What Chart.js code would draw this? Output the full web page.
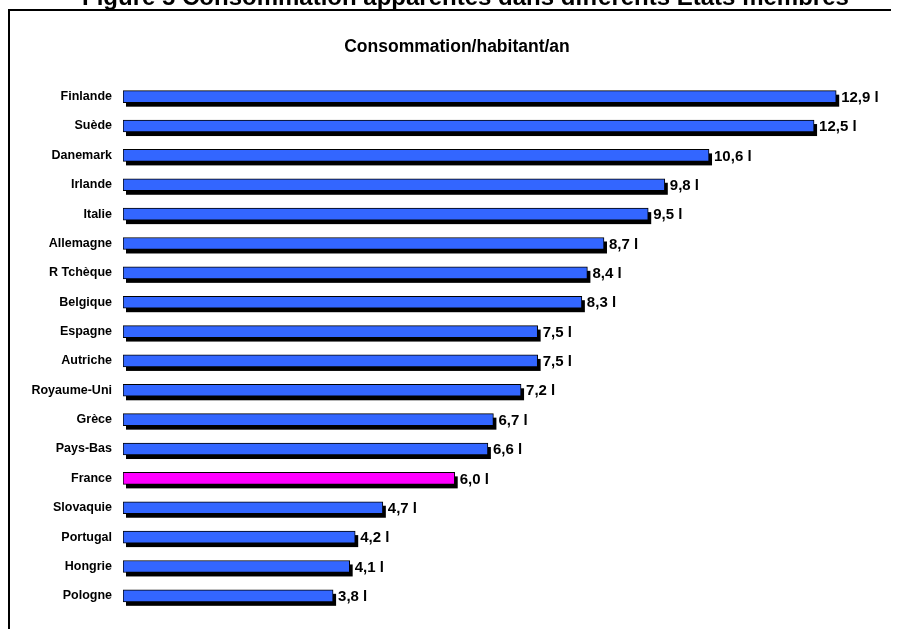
<!DOCTYPE html>
<html lang="fr">
<head>
<meta charset="utf-8">
<title>Consommation/habitant/an</title>
<script src="https://cdn.jsdelivr.net/npm/chart.js@4/dist/chart.umd.min.js"></script>
<style>
  html, body { margin: 0; padding: 0; background: #ffffff; }
  #wrap { width: 900px; height: 629px; position: relative; }
</style>
</head>
<body>
<div id="wrap"><canvas id="chart" width="900" height="629"></canvas></div>
<script>
// Consommation apparente par habitant et par an (litres)
const pays = ["Finlande", "Suède", "Danemark", "Irlande", "Italie", "Allemagne",
  "R Tchèque", "Belgique", "Espagne", "Autriche", "Royaume-Uni", "Grèce",
  "Pays-Bas", "France", "Slovaquie", "Portugal", "Hongrie", "Pologne"];
const litres = [12.9, 12.5, 10.6, 9.8, 9.5, 8.7, 8.4, 8.3, 7.5, 7.5, 7.2, 6.7,
  6.6, 6.0, 4.7, 4.2, 4.1, 3.8];
const paysMisEnAvant = "France";

const titreFigure = "Figure 5 Consommation apparentes dans différents Etats membres";
const sousTitre = "Consommation/habitant/an";

const FONT = "'Liberation Sans', Arial, Helvetica, sans-serif";
const BLEU = "#3366FF";
const MAGENTA = "#FF00FF";

const couleurs = pays.map(p => p === paysMisEnAvant ? MAGENTA : BLEU);

function formatLitres(v) {
  return v.toFixed(1).replace(".", ",") + " l";
}

// Cadre et titres
const decor = {
  id: "decor",
  beforeDraw(chart) {
    const ctx = chart.ctx;
    ctx.save();
    ctx.fillStyle = "#ffffff";
    ctx.fillRect(0, 0, chart.width, chart.height);
    ctx.fillStyle = "#000000";
    ctx.fillRect(8, 9, 883, 2);
    ctx.fillRect(8, 9, 2, chart.height - 9);

    ctx.textAlign = "left";
    ctx.textBaseline = "alphabetic";
    ctx.font = "bold 24px " + FONT;
    ctx.fillText(titreFigure, 82, 5);

    ctx.textAlign = "center";
    ctx.textBaseline = "middle";
    ctx.font = "bold 17.5px " + FONT;
    ctx.fillText(sousTitre, 457, 47);
    ctx.restore();
  }
};

// Ombre portée noire, décalée vers la droite et vers le bas
const ombre = {
  id: "ombre",
  beforeDatasetsDraw(chart) {
    const ctx = chart.ctx;
    const meta = chart.getDatasetMeta(0);
    ctx.save();
    ctx.fillStyle = "#000000";
    meta.data.forEach(bar => {
      const p = bar.getProps(["x", "y", "base", "height"], true);
      const gauche = Math.min(p.base, p.x);
      const largeur = Math.abs(p.x - p.base);
      ctx.fillRect(gauche + 3, p.y - p.height / 2 + 4, largeur, p.height);
    });
    ctx.restore();
  }
};

// Valeurs en bout de barre
const etiquettes = {
  id: "etiquettes",
  afterDatasetsDraw(chart) {
    const ctx = chart.ctx;
    const meta = chart.getDatasetMeta(0);
    const data = chart.data.datasets[0].data;
    ctx.save();
    ctx.fillStyle = "#000000";
    ctx.font = "bold 15px " + FONT;
    ctx.textAlign = "left";
    ctx.textBaseline = "middle";
    meta.data.forEach((bar, i) => {
      ctx.fillText(formatLitres(data[i]), bar.x + 5, bar.y + 1);
    });
    ctx.restore();
  }
};

new Chart(document.getElementById("chart"), {
  type: "bar",
  data: {
    labels: pays,
    datasets: [{
      data: litres,
      backgroundColor: couleurs,
      borderColor: "#000000",
      borderWidth: 1,
      borderSkipped: false,
      barThickness: 12
    }]
  },
  plugins: [decor, ombre, etiquettes],
  options: {
    indexAxis: "y",
    responsive: false,
    animation: false,
    devicePixelRatio: 1,
    layout: { padding: { top: 82, bottom: 9, left: 0, right: 3 } },
    plugins: {
      legend: { display: false },
      title: { display: false },
      tooltip: { enabled: false }
    },
    scales: {
      x: {
        display: false,
        min: 0,
        max: 14
      },
      y: {
        afterFit(scale) { scale.width = 123; },
        grid: { display: false, drawTicks: false },
        border: { display: false },
        ticks: {
          padding: 11,
          color: "#000000",
          font: { family: FONT, size: 12.5, weight: "bold" }
        }
      }
    }
  }
});
</script>
</body>
</html>
